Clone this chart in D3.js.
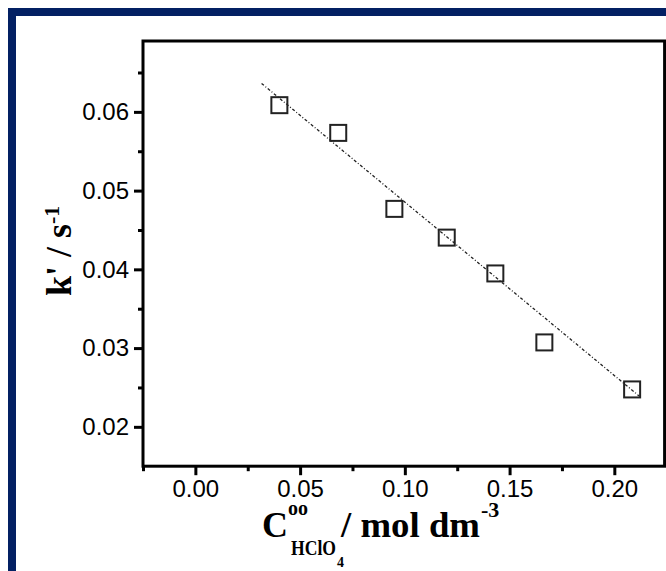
<!DOCTYPE html>
<html>
<head>
<meta charset="utf-8">
<script src="https://cdn.jsdelivr.net/npm/d3@7"></script>
<style>
  body { margin: 0; background: #fff; }
  svg { display: block; }
</style>
</head>
<body>
<svg id="chart"></svg>
<script>
// Measured points (C HClO4 in mol dm-3, k' in s-1)
var concValues = [0.0401, 0.0682, 0.0950, 0.1200, 0.1432, 0.1666, 0.2085];
var rateValues = [0.06085, 0.05733, 0.04768, 0.04403, 0.03948, 0.03072, 0.02475];

// End points of the linear fit
var fitConc = [0.0316, 0.2119];
var fitRate = [0.06361, 0.02390];

// Tick values
var xMajor = [0, 0.05, 0.10, 0.15, 0.20];
var xMinor = [-0.025, 0.025, 0.075, 0.125, 0.175];
var yMajor = [0.02, 0.03, 0.04, 0.05, 0.06];
var yMinor = [0.025, 0.035, 0.045, 0.055, 0.065];

const width = 666, height = 571;
const plot = {left: 143, right: 664.6, top: 41, bottom: 466.2};
const navy = "#032063";

var svg = d3.select("#chart")
    .attr("width", width)
    .attr("height", height);

svg.append("rect")
    .attr("width", width).attr("height", height)
    .attr("fill", "#fff");

// Navy frame (top and left edges visible)
svg.append("rect")
    .attr("x", 8).attr("y", 8)
    .attr("width", width - 8).attr("height", 8)
    .attr("fill", navy);
svg.append("rect")
    .attr("x", 8).attr("y", 8)
    .attr("width", 8).attr("height", height - 8)
    .attr("fill", navy);

// Scales
var x = d3.scaleLinear()
    .domain([-0.025, 0.224])
    .range([plot.left, plot.right]);

var y = d3.scaleLinear()
    .domain([0.015, 0.069])
    .range([plot.bottom, plot.top]);

var fmt = d3.format(".2f");

// Axes: major ticks with labels, minor ticks shorter
var styleAxis = function(g) {
    g.select(".domain").remove();
    g.selectAll(".tick line")
        .attr("stroke", "#000")
        .attr("stroke-width", 3);
    g.selectAll(".tick text")
        .attr("fill", "#000")
        .style("font-family", "'Liberation Sans', Arial, sans-serif")
        .style("font-size", "24px");
};

svg.append("g")
    .attr("transform", `translate(0, ${plot.bottom})`)
    .call(d3.axisBottom(x).tickValues(xMajor).tickSize(9).tickPadding(5).tickFormat(fmt))
    .call(styleAxis);

svg.append("g")
    .attr("transform", `translate(0, ${plot.bottom})`)
    .call(d3.axisBottom(x).tickValues(xMinor).tickSize(5).tickFormat(""))
    .call(styleAxis);

svg.append("g")
    .attr("transform", `translate(${plot.left}, 0)`)
    .call(d3.axisLeft(y).tickValues(yMajor).tickSize(9).tickPadding(5).tickFormat(fmt))
    .call(styleAxis);

svg.append("g")
    .attr("transform", `translate(${plot.left}, 0)`)
    .call(d3.axisLeft(y).tickValues(yMinor).tickSize(5).tickFormat(""))
    .call(styleAxis);

// Plot frame
svg.append("rect")
    .attr("x", plot.left).attr("y", plot.top)
    .attr("width", plot.right - plot.left)
    .attr("height", plot.bottom - plot.top)
    .attr("fill", "none")
    .attr("stroke", "#000")
    .attr("stroke-width", 3);

// Fit line
var fitData = fitConc.map(function(c, i) { return [c, fitRate[i]]; });
svg.append("path")
    .datum(fitData)
    .attr("fill", "none")
    .attr("stroke", "#222")
    .attr("stroke-width", 1.3)
    .attr("stroke-dasharray", "3,2,1,2")
    .attr("d", d3.line()
        .x(function(d) { return x(d[0]); })
        .y(function(d) { return y(d[1]); }));

// Open square markers
var side = 16;
svg.selectAll(".pt")
    .data(concValues.map(function(c, i) { return {c: c, k: rateValues[i]}; }))
    .join("rect")
    .attr("class", "pt")
    .attr("x", function(d) { return x(d.c) - side / 2; })
    .attr("y", function(d) { return y(d.k) - side / 2; })
    .attr("width", side)
    .attr("height", side)
    .attr("fill", "none")
    .attr("stroke", "#222")
    .attr("stroke-width", 2);

// Axis titles
var serif = "'Liberation Serif', 'Times New Roman', serif";

var addText = function(txt, px, py, size, anchor) {
    return svg.append("text")
        .attr("x", px).attr("y", py)
        .attr("text-anchor", anchor || "start")
        .style("font-family", serif)
        .style("font-weight", "bold")
        .style("font-size", size + "px")
        .attr("fill", "#000")
        .text(txt);
};

// x title: C^oo_HClO4 / mol dm^-3
addText("C", 262, 537, 36);
addText("oo", 288, 515, 20).attr("textLength", 20).attr("lengthAdjust", "spacingAndGlyphs");
addText("HClO", 291, 555, 20).attr("textLength", 45).attr("lengthAdjust", "spacingAndGlyphs");
addText("4", 337, 567, 14);
addText("/ mol dm", 341, 537, 36).attr("textLength", 139).attr("lengthAdjust", "spacingAndGlyphs");
addText("-3", 481, 517, 22);

// y title: k' / s^-1 (rotated)
var yt = svg.append("text")
    .attr("transform", "translate(71, 296) rotate(-90)")
    .style("font-family", serif)
    .style("font-weight", "bold")
    .style("font-size", "36px")
    .attr("fill", "#000");
yt.append("tspan").text("k' / s");
yt.append("tspan")
    .attr("dy", -12)
    .style("font-size", "22px")
    .text("-1");
</script>
</body>
</html>
